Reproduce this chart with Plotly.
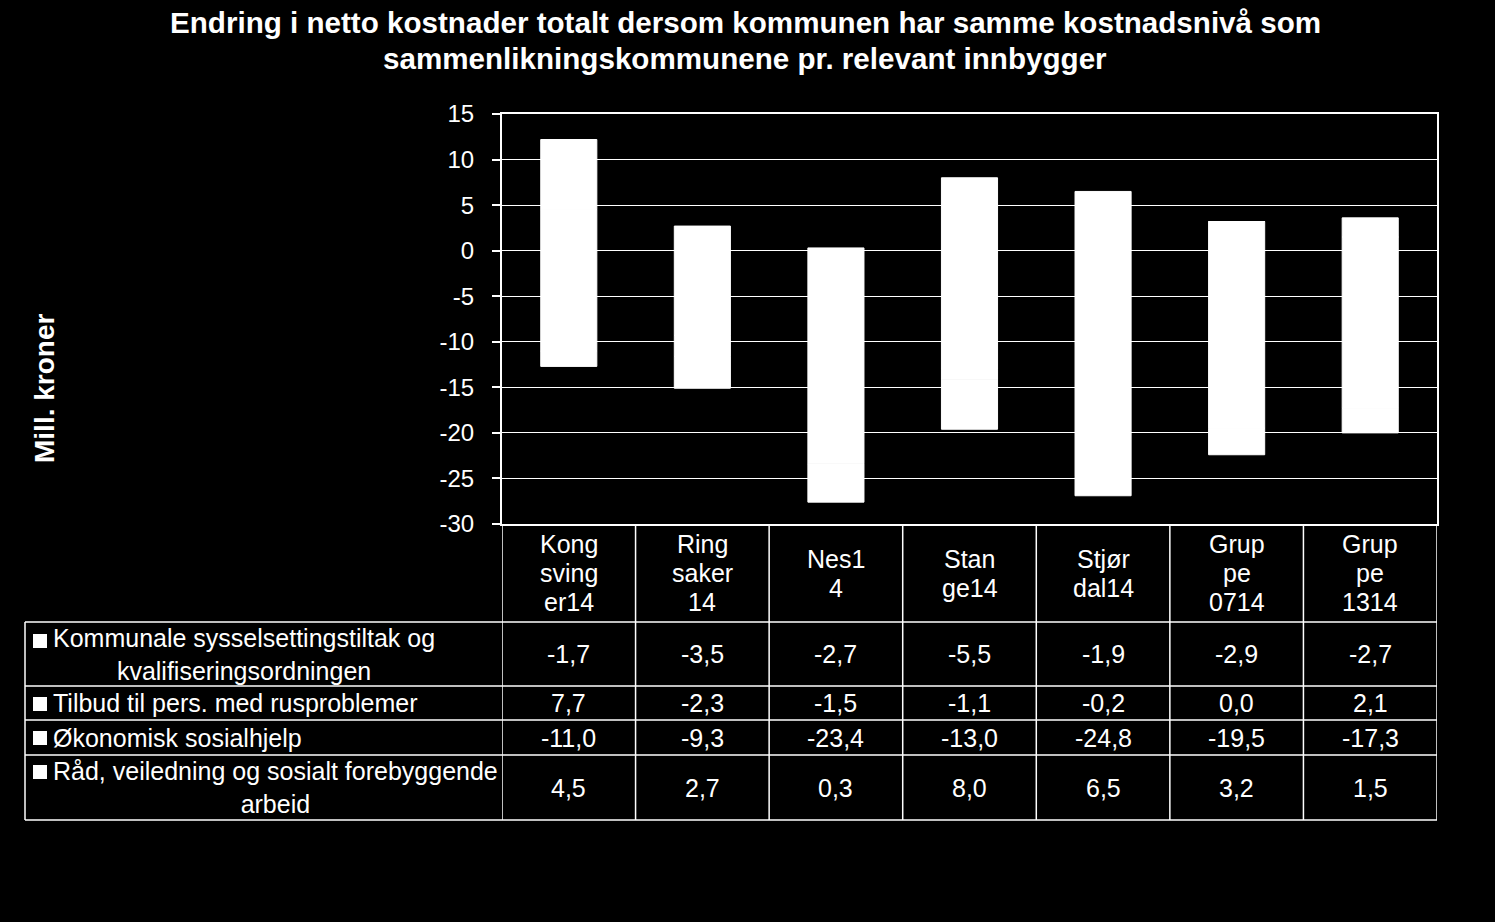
import plotly.graph_objects as go

# ---------------- data ----------------
categories = ["Kongsvinger14", "Ringsaker14", "Nes14", "Stange14", "Stjørdal14", "Gruppe0714", "Gruppe1314"]
category_labels = [["Kong", "sving", "er14"], ["Ring", "saker", "14"], ["Nes1", "4"], ["Stan", "ge14"],
                   ["Stjør", "dal14"], ["Grup", "pe", "0714"], ["Grup", "pe", "1314"]]

kommunale = [-1.7, -3.5, -2.7, -5.5, -1.9, -2.9, -2.7]
tilbud = [7.7, -2.3, -1.5, -1.1, -0.2, 0.0, 2.1]
okonomisk = [-11.0, -9.3, -23.4, -13.0, -24.8, -19.5, -17.3]
raad = [4.5, 2.7, 0.3, 8.0, 6.5, 3.2, 1.5]

name_kommunale = "Kommunale sysselsettingstiltak og<br>kvalifiseringsordningen"
name_tilbud = "Tilbud til pers. med rusproblemer"
name_okonomisk = "Økonomisk sosialhjelp"
name_raad = "Råd, veiledning og sosialt forebyggende<br>arbeid"

tick_vals = [15, 10, 5, 0, -5, -10, -15, -20, -25, -30]
tick_text = ["15", "10", "5", "0", "-5", "-10", "-15", "-20", "-25", "-30"]

title_lines = ["Endring i netto kostnader totalt dersom kommunen har samme kostnadsnivå som",
               "sammenlikningskommunene pr. relevant innbygger"]
y_title = "Mill. kroner"

# ---------------- layout constants (pixels) ----------------
W, H = 1495, 922
PL, PR, PT, PB = 502, 1437, 114, 524
FONT = "Liberation Sans, Arial, sans-serif"
TXT = 25
TICK = 24
LINE_GAP = 29


def py(p):
    return (PB - p) / (PB - PT)


def px(p):
    return (p - PL) / (PR - PL)


fig = go.Figure()

# stacking order (bottom-most first), table shows reverse order
stack = [(name_raad, raad), (name_okonomisk, okonomisk), (name_tilbud, tilbud), (name_kommunale, kommunale)]
for nm, vals in stack:
    fig.add_trace(go.Bar(x=categories, y=vals, name=nm.replace("<br>", " "),
                         marker=dict(color="white", line=dict(color="white", width=1)),
                         width=0.42, showlegend=False, hoverinfo="y"))

annotations = []
shapes = []

# title, one annotation per line
title_centers = [22, 58]
for ln, yc in zip(title_lines, title_centers):
    annotations.append(dict(x=745 / W, xref="paper", y=py(yc), yref="paper", text="<b>" + ln + "</b>",
                            showarrow=False, font=dict(family=FONT, size=29.6, color="white"),
                            xanchor="center", yanchor="middle"))
# fix title x to container coordinates via paper conversion
for a in annotations:
    a["x"] = px(745)

# header row labels (category names), one annotation per line
HEADER_CENTER = 573
for cat, lines in zip(categories, category_labels):
    nl = len(lines)
    for j, ln in enumerate(lines):
        yc = HEADER_CENTER + (j - (nl - 1) / 2) * LINE_GAP
        annotations.append(dict(x=cat, xref="x", y=py(yc), yref="paper", text=ln, showarrow=False,
                                font=dict(family=FONT, size=TXT, color="white"),
                                xanchor="center", yanchor="middle"))

# table rows
table_rows = [(name_kommunale, kommunale), (name_tilbud, tilbud), (name_okonomisk, okonomisk), (name_raad, raad)]
row_bounds = [622, 686, 720, 755, 820]
square_centers = [641, 704, 738, 772]
for i, (nm, vals) in enumerate(table_rows):
    top, bot = row_bounds[i], row_bounds[i + 1]
    cy = (top + bot) / 2
    annotations.append(dict(x=px(51), xref="paper", y=py(cy), yref="paper", text=nm, showarrow=False,
                            font=dict(family=FONT, size=TXT, color="white"), align="center",
                            xanchor="left", yanchor="middle"))
    sc = square_centers[i]
    shapes.append(dict(type="rect", xref="paper", yref="paper", x0=px(33), x1=px(47),
                       y0=py(sc + 7), y1=py(sc - 7), fillcolor="white", line=dict(width=0)))
    for cat, v in zip(categories, vals):
        annotations.append(dict(x=cat, xref="x", y=py(cy), yref="paper",
                                text=f"{v:.1f}".replace(".", ","), showarrow=False,
                                font=dict(family=FONT, size=TXT, color="white"),
                                xanchor="center", yanchor="middle"))

# table grid lines
LW = 1.5
for b in row_bounds:
    shapes.append(dict(type="line", xref="paper", yref="paper", x0=px(25), x1=1, y0=py(b), y1=py(b),
                       line=dict(color="white", width=LW)))
n = len(categories)
for k in range(n + 1):
    shapes.append(dict(type="line", xref="x", yref="paper", x0=k - 0.5, x1=k - 0.5, y0=0, y1=py(820),
                       line=dict(color="white", width=LW)))
shapes.append(dict(type="line", xref="paper", yref="paper", x0=px(25), x1=px(25), y0=py(622), y1=py(820),
                   line=dict(color="white", width=LW)))

# y axis title
annotations.append(dict(x=px(45), xref="paper", y=py(389), yref="paper", text="<b>" + y_title + "</b>",
                        textangle=-90, showarrow=False,
                        font=dict(family=FONT, size=28, color="white"),
                        xanchor="center", yanchor="middle"))

fig.update_layout(
    width=W, height=H,
    margin=dict(l=PL, r=W - PR, t=PT, b=H - PB, pad=0),
    paper_bgcolor="black", plot_bgcolor="black",
    barmode="relative",
    xaxis=dict(type="category", range=[-0.5, n - 0.5], showticklabels=False, showgrid=False,
               showline=True, linecolor="white", linewidth=2, mirror=True, ticks="",
               zeroline=False, fixedrange=True),
    yaxis=dict(range=[-30, 15], tickvals=tick_vals, ticktext=tick_text, showgrid=True,
               gridcolor="white", gridwidth=1.2, zeroline=True, zerolinecolor="white", zerolinewidth=1.2,
               showline=True, linecolor="white", linewidth=2, mirror=True,
               ticks="outside", ticklen=8, tickcolor="white", tickwidth=1.5,
               ticklabelstandoff=13,
               tickfont=dict(family=FONT, size=TICK, color="white"), fixedrange=True),
    annotations=annotations,
    shapes=shapes,
    font=dict(family=FONT, color="white"),
)

fig.write_html("out.html")
